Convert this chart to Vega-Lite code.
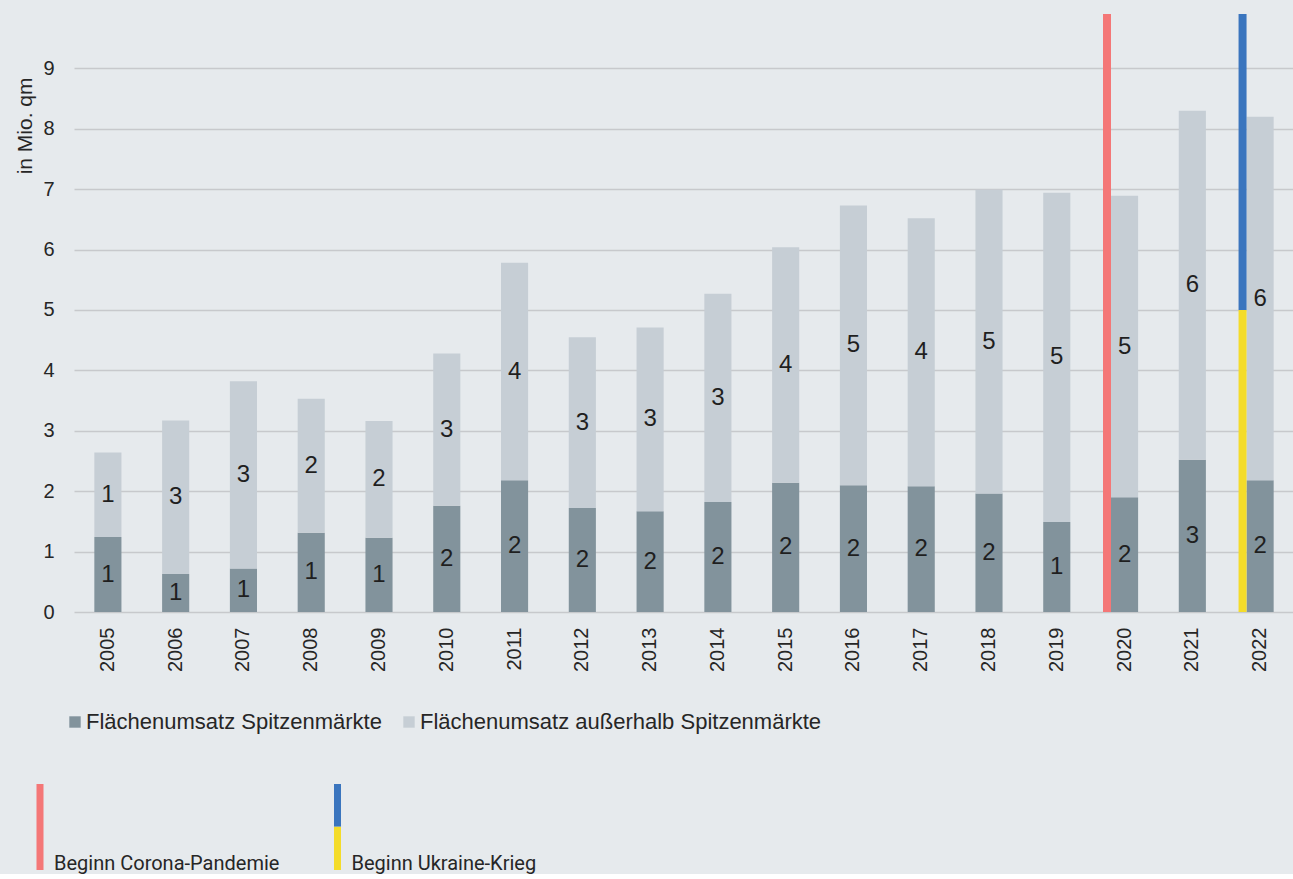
{
  "$schema": "https://vega.github.io/schema/vega-lite/v6.json",
  "background": "#e6eaed",
  "padding": {"left": 13, "top": 10, "right": 0, "bottom": 0},
  "spacing": 172,
  "bounds": "flush",
  "config": {"view": {"stroke": null}, "font": "Liberation Sans"},
  "datasets": {
    "balken": [
      {"jahr": "2005", "kategorie": "Flächenumsatz Spitzenmärkte", "wert": 1.24},
      {"jahr": "2005", "kategorie": "Flächenumsatz außerhalb Spitzenmärkte", "wert": 1.40},
      {"jahr": "2006", "kategorie": "Flächenumsatz Spitzenmärkte", "wert": 0.63},
      {"jahr": "2006", "kategorie": "Flächenumsatz außerhalb Spitzenmärkte", "wert": 2.54},
      {"jahr": "2007", "kategorie": "Flächenumsatz Spitzenmärkte", "wert": 0.72},
      {"jahr": "2007", "kategorie": "Flächenumsatz außerhalb Spitzenmärkte", "wert": 3.10},
      {"jahr": "2008", "kategorie": "Flächenumsatz Spitzenmärkte", "wert": 1.31},
      {"jahr": "2008", "kategorie": "Flächenumsatz außerhalb Spitzenmärkte", "wert": 2.22},
      {"jahr": "2009", "kategorie": "Flächenumsatz Spitzenmärkte", "wert": 1.23},
      {"jahr": "2009", "kategorie": "Flächenumsatz außerhalb Spitzenmärkte", "wert": 1.93},
      {"jahr": "2010", "kategorie": "Flächenumsatz Spitzenmärkte", "wert": 1.76},
      {"jahr": "2010", "kategorie": "Flächenumsatz außerhalb Spitzenmärkte", "wert": 2.52},
      {"jahr": "2011", "kategorie": "Flächenumsatz Spitzenmärkte", "wert": 2.18},
      {"jahr": "2011", "kategorie": "Flächenumsatz außerhalb Spitzenmärkte", "wert": 3.60},
      {"jahr": "2012", "kategorie": "Flächenumsatz Spitzenmärkte", "wert": 1.72},
      {"jahr": "2012", "kategorie": "Flächenumsatz außerhalb Spitzenmärkte", "wert": 2.83},
      {"jahr": "2013", "kategorie": "Flächenumsatz Spitzenmärkte", "wert": 1.67},
      {"jahr": "2013", "kategorie": "Flächenumsatz außerhalb Spitzenmärkte", "wert": 3.04},
      {"jahr": "2014", "kategorie": "Flächenumsatz Spitzenmärkte", "wert": 1.82},
      {"jahr": "2014", "kategorie": "Flächenumsatz außerhalb Spitzenmärkte", "wert": 3.45},
      {"jahr": "2015", "kategorie": "Flächenumsatz Spitzenmärkte", "wert": 2.14},
      {"jahr": "2015", "kategorie": "Flächenumsatz außerhalb Spitzenmärkte", "wert": 3.90},
      {"jahr": "2016", "kategorie": "Flächenumsatz Spitzenmärkte", "wert": 2.10},
      {"jahr": "2016", "kategorie": "Flächenumsatz außerhalb Spitzenmärkte", "wert": 4.63},
      {"jahr": "2017", "kategorie": "Flächenumsatz Spitzenmärkte", "wert": 2.08},
      {"jahr": "2017", "kategorie": "Flächenumsatz außerhalb Spitzenmärkte", "wert": 4.44},
      {"jahr": "2018", "kategorie": "Flächenumsatz Spitzenmärkte", "wert": 1.96},
      {"jahr": "2018", "kategorie": "Flächenumsatz außerhalb Spitzenmärkte", "wert": 5.03},
      {"jahr": "2019", "kategorie": "Flächenumsatz Spitzenmärkte", "wert": 1.49},
      {"jahr": "2019", "kategorie": "Flächenumsatz außerhalb Spitzenmärkte", "wert": 5.45},
      {"jahr": "2020", "kategorie": "Flächenumsatz Spitzenmärkte", "wert": 1.90},
      {"jahr": "2020", "kategorie": "Flächenumsatz außerhalb Spitzenmärkte", "wert": 4.99},
      {"jahr": "2021", "kategorie": "Flächenumsatz Spitzenmärkte", "wert": 2.52},
      {"jahr": "2021", "kategorie": "Flächenumsatz außerhalb Spitzenmärkte", "wert": 5.78},
      {"jahr": "2022", "kategorie": "Flächenumsatz Spitzenmärkte", "wert": 2.18},
      {"jahr": "2022", "kategorie": "Flächenumsatz außerhalb Spitzenmärkte", "wert": 6.02}
    ],
    "ereignisse": [
      {"jahr": "2020", "ereignis": "Beginn Corona-Pandemie", "teil": "Corona", "von": 0, "bis": 9.9},
      {"jahr": "2022", "ereignis": "Beginn Ukraine-Krieg", "teil": "Ukraine gelb", "von": 0, "bis": 5},
      {"jahr": "2022", "ereignis": "Beginn Ukraine-Krieg", "teil": "Ukraine blau", "von": 5, "bis": 9.9}
    ]
  },
  "vconcat": [
    {
      "width": 1220,
      "height": 598,
      "layer": [
        {
          "data": {"name": "balken"},
          "mark": {"type": "bar"},
          "encoding": {
            "x": {
              "field": "jahr", "type": "ordinal", "title": null,
              "scale": {"paddingInner": 0.6, "paddingOuter": 0.3},
              "axis": {"labelAngle": -90, "labelFontSize": 20, "labelColor": "#262626", "labelPadding": 15, "domain": false, "ticks": false, "tickSize": 0, "grid": false}
            },
            "y": {
              "field": "wert", "type": "quantitative", "stack": "zero", "title": "in Mio. qm",
              "scale": {"domain": [0, 9.9], "nice": false},
              "axis": {
                "values": [0, 1, 2, 3, 4, 5, 6, 7, 8, 9], "format": "d",
                "grid": true, "gridColor": "#c7c9cc", "gridWidth": 1.3,
                "domain": false, "ticks": false, "tickSize": 0,
                "labelFontSize": 20, "labelColor": "#262626", "labelPadding": 20,
                "titleFontSize": 21, "titleFontWeight": "normal", "titleColor": "#262626",
                "titleAngle": -90, "titleAlign": "right", "titleBaseline": "alphabetic",
                "titleX": -43, "titleY": 63
              }
            },
            "color": {
              "field": "kategorie", "type": "nominal",
              "scale": {"domain": ["Flächenumsatz Spitzenmärkte", "Flächenumsatz außerhalb Spitzenmärkte"], "range": ["#82939c", "#c6ced5"]},
              "legend": {"orient": "none", "legendX": -10, "legendY": 697, "direction": "horizontal", "title": null, "symbolType": "square", "symbolSize": 130, "symbolStrokeWidth": 0, "labelFontSize": 22, "labelColor": "#262626", "labelOffset": 0, "labelLimit": 600, "columnPadding": 16, "padding": 0}
            },
            "order": {"field": "kategorie", "sort": "ascending"}
          }
        },
        {
          "data": {"name": "balken"},
          "transform": [
            {"stack": "wert", "groupby": ["jahr"], "sort": [{"field": "kategorie", "order": "ascending"}], "as": ["y0", "y1"]},
            {"calculate": "(datum.y0 + datum.y1) / 2", "as": "mitte"}
          ],
          "mark": {"type": "text", "fontSize": 24, "color": "#1f1f1f", "baseline": "middle", "align": "center"},
          "encoding": {
            "x": {"field": "jahr", "type": "ordinal", "title": null},
            "y": {"field": "mitte", "type": "quantitative", "title": "in Mio. qm"},
            "text": {"field": "wert", "type": "quantitative", "format": ".0f"}
          }
        },
        {
          "data": {"name": "ereignisse"},
          "mark": {"type": "rule", "strokeWidth": 8, "xOffset": -4},
          "encoding": {
            "x": {"field": "jahr", "type": "ordinal", "bandPosition": 0, "title": null},
            "y": {"field": "von", "type": "quantitative", "title": "in Mio. qm"},
            "y2": {"field": "bis"},
            "stroke": {
              "field": "teil", "type": "nominal",
              "scale": {"domain": ["Corona", "Ukraine blau", "Ukraine gelb"], "range": ["#f47777", "#3a75be", "#f4dc2a"]},
              "legend": null
            }
          }
        }
      ]
    },
    {
      "width": 595,
      "height": 86,
      "data": {"name": "ereignisse"},
      "layer": [
        {
          "mark": {"type": "rule", "strokeWidth": 7, "xOffset": -34},
          "encoding": {
            "x": {"field": "ereignis", "type": "nominal", "sort": null, "bandPosition": 0, "scale": {"type": "band", "paddingInner": 0, "paddingOuter": 0}, "axis": null},
            "y": {"field": "von", "type": "quantitative", "scale": {"domain": [0, 9.9], "nice": false}, "axis": null},
            "y2": {"field": "bis"},
            "stroke": {
              "field": "teil", "type": "nominal",
              "scale": {"domain": ["Corona", "Ukraine blau", "Ukraine gelb"], "range": ["#f47777", "#3a75be", "#f4dc2a"]},
              "legend": null
            }
          }
        },
        {
          "transform": [{"filter": "datum.von == 0"}],
          "mark": {"type": "text", "align": "left", "baseline": "alphabetic", "xOffset": -20, "font": "Roboto", "fontSize": 20, "color": "#262626"},
          "encoding": {
            "x": {"field": "ereignis", "type": "nominal", "sort": null, "bandPosition": 0, "axis": null},
            "y": {"field": "von", "type": "quantitative", "axis": null},
            "text": {"field": "ereignis", "type": "nominal"}
          }
        }
      ]
    }
  ]
}
